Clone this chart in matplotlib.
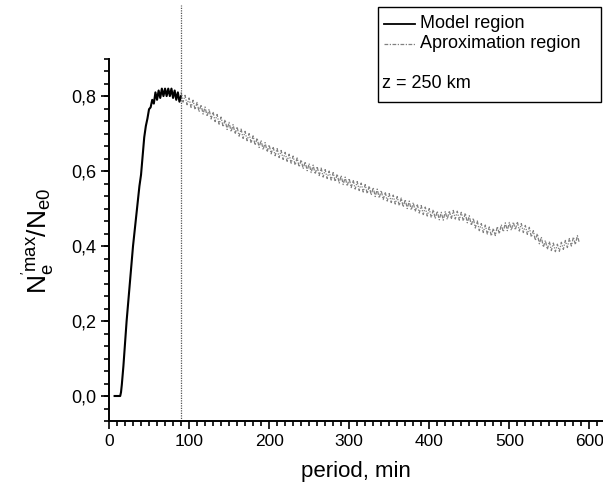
import matplotlib
matplotlib.use("Agg")
import matplotlib.pyplot as plt
import numpy as np
from matplotlib.ticker import MultipleLocator, FuncFormatter
from matplotlib.patches import Rectangle
from matplotlib.lines import Line2D

plt.rcParams['font.family'] = ['Liberation Sans', 'DejaVu Sans']
plt.rcParams['mathtext.fontset'] = 'custom'
plt.rcParams['mathtext.rm'] = 'Liberation Sans'
plt.rcParams['mathtext.it'] = 'Liberation Sans'

# model region (black)
model_x = [7, 14, 15, 16, 18, 20, 22, 24, 26, 28, 30, 32, 34, 36, 38, 40, 42, 44, 46,
           48, 50, 52, 54, 56, 58, 60, 62, 64, 66, 68, 70, 72, 74, 76, 78, 80, 82,
           84, 86, 88, 90]
model_y = [0.0, 0.0, 0.01, 0.03, 0.08, 0.14, 0.2, 0.25, 0.3, 0.35, 0.4, 0.44, 0.48,
           0.52, 0.56, 0.59, 0.64, 0.69, 0.72, 0.74, 0.765, 0.77, 0.79, 0.78, 0.81,
           0.79, 0.815, 0.795, 0.82, 0.80, 0.82, 0.80, 0.82, 0.80, 0.82, 0.795,
           0.815, 0.79, 0.81, 0.785, 0.80]

# approximation region (grey), sampled every 2.5 min from 90 min
aprox_x = np.arange(90, 590, 2.5)
aprox_y = [
    .810, .784, .802, .777, .795, .770, .789, .764, .783, .758,
    .777, .752, .771, .746, .765, .739, .758, .732, .751, .725,
    .744, .718, .737, .711, .730, .705, .724, .699, .718, .693,
    .712, .687, .706, .681, .700, .675, .694, .669, .688, .663,
    .682, .657, .676, .651, .670, .646, .665, .641, .660, .636,
    .655, .631, .650, .626, .645, .621, .640, .616, .635, .611,
    .630, .606, .625, .601, .620, .596, .616, .592, .612, .588,
    .608, .584, .604, .580, .600, .576, .596, .572, .592, .568,
    .588, .564, .584, .560, .580, .556, .576, .552, .572, .548,
    .568, .544, .564, .540, .560, .536, .556, .532, .552, .528,
    .548, .524, .544, .520, .540, .516, .536, .512, .532, .508,
    .528, .504, .524, .500, .520, .496, .516, .492, .512, .488,
    .508, .484, .504, .480, .500, .476, .497, .473, .493, .470,
    .490, .469, .492, .471, .494, .472, .495, .472, .493, .469,
    .490, .467, .488, .462, .481, .455, .474, .448, .467, .441,
    .460, .436, .456, .432, .451, .427, .447, .428, .452, .433,
    .457, .438, .462, .441, .463, .442, .464, .443, .465, .440,
    .460, .436, .455, .431, .450, .424, .441, .415, .433, .406,
    .424, .397, .415, .391, .412, .388, .408, .385, .405, .386,
    .410, .391, .415, .396, .420, .400, .424, .404, .428, .408,
]
boundary_x = 90

W, H = 603, 486
fig = plt.figure(figsize=(W / 100, H / 100), dpi=100)
ax = fig.add_axes([109 / W, 1 - 421 / H, 1 - 109 / W, (421 - 5) / H])

ax.plot(model_x, model_y, color='black', lw=1.5)
ax.plot(aprox_x, aprox_y, color='#808080', lw=0.9, dashes=(3, 1.2, 1, 1.2))
ax.axvline(boundary_x, color='#555555', lw=0.9, ls=(0, (1, 1)))

ax.set_xlim(0, 617)
ax.set_ylim(-0.0667, 1.043)
ax.spines['top'].set_visible(False)
ax.spines['right'].set_visible(False)
ax.spines['left'].set_bounds(-0.0667, 0.9)
for s in ['left', 'bottom']:
    ax.spines[s].set_linewidth(1.4)

ax.xaxis.set_major_locator(MultipleLocator(100))
ax.xaxis.set_minor_locator(MultipleLocator(10))
ax.set_yticks([0, 0.2, 0.4, 0.6, 0.8])
ax.set_yticks(np.arange(-0.0667, 0.91, 0.2 / 6), minor=True)
ax.yaxis.set_major_formatter(FuncFormatter(lambda v, p: f"{v:.1f}".replace('.', ',')))
ax.tick_params(which='major', direction='out', length=6, width=1.2, pad=3)
ax.tick_params(axis='y', labelsize=13)
ax.tick_params(axis='x', labelsize=12.5)
ax.tick_params(which='minor', direction='out', length=3.5, width=1.2)

ax.set_xlabel("period, min", fontsize=16, labelpad=9)
fig.text(38 / W, 1 - 241 / H, r"$\mathregular{N_e^{'max}/N_{e0}}$", fontsize=19,
         rotation=90, ha='center', va='center')


def fx(px):
    return px / W


def fy(py):
    return 1 - py / H


# legend box drawn by hand
fig.add_artist(Rectangle((fx(378), fy(102)), fx(601) - fx(378), fy(7) - fy(102),
                         fill=False, edgecolor='black', lw=1.0, transform=fig.transFigure))
fig.add_artist(Line2D([fx(384), fx(415)], [fy(24), fy(24)], color='black', lw=1.3,
                      transform=fig.transFigure))
fig.add_artist(Line2D([fx(384), fx(415)], [fy(44), fy(44)], color='#808080', lw=0.9,
                      dashes=(3, 1.2, 1, 1.2), transform=fig.transFigure))
fig.text(fx(420), fy(24), "Model region", fontsize=13, va='center', ha='left')
fig.text(fx(420), fy(44), "Aproximation region", fontsize=13, va='center', ha='left')
fig.text(fx(382), fy(84), "z = 250 km", fontsize=13, va='center', ha='left')

fig.savefig("out.png", dpi=100)
